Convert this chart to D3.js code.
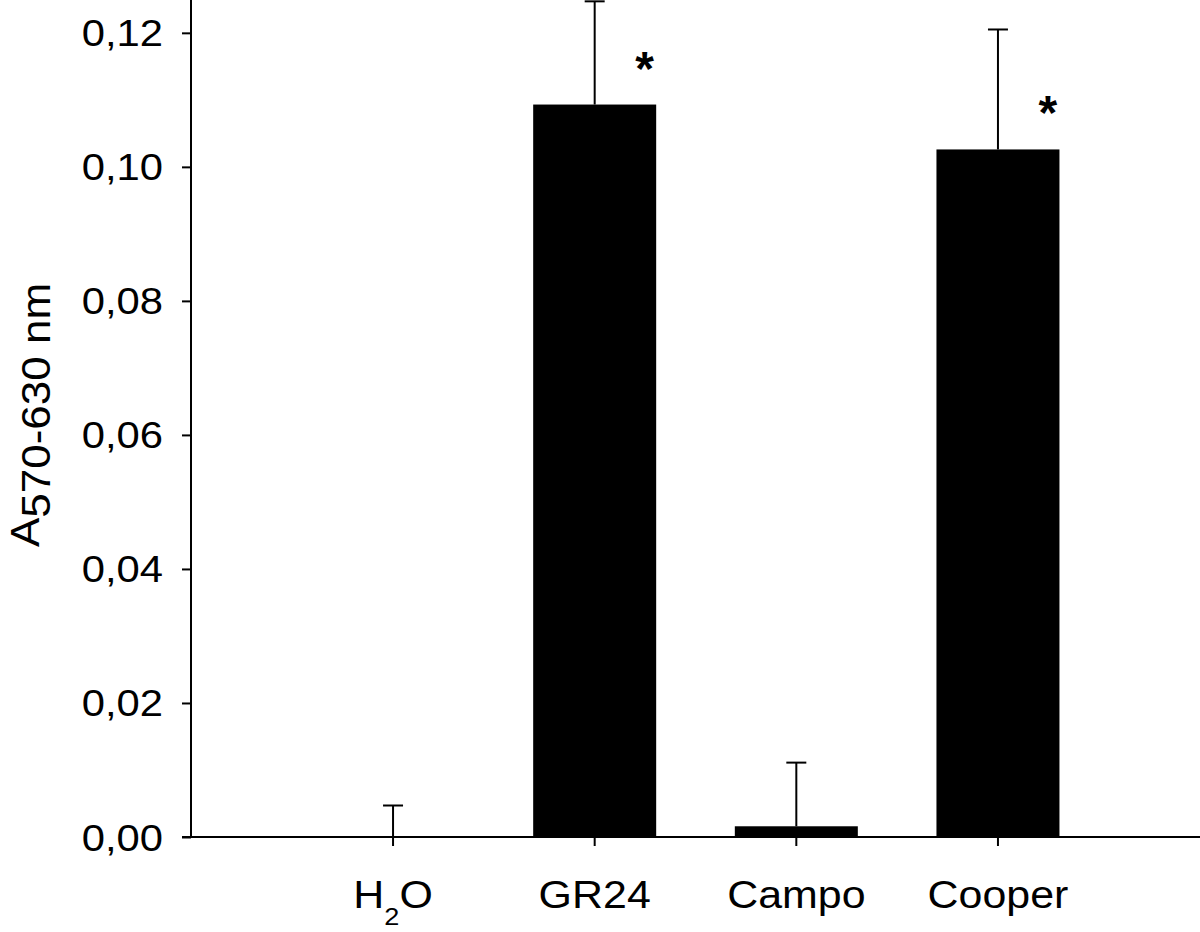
<!DOCTYPE html>
<html>
<head>
<meta charset="utf-8">
<script src="https://cdn.jsdelivr.net/npm/d3@7"></script>
<style>
  body { margin: 0; background: #fff; }
  text { font-family: "Liberation Sans", Arial, Helvetica, sans-serif; fill: #000; }
</style>
</head>
<body>
<div id="chart"></div>
<script>
// data
var categories = ["H2O", "GR24", "Campo", "Cooper"];
var means = [0, 0.1093, 0.0016, 0.1026];
var errors = [0.0047, 0.0154, 0.0095, 0.0179];
var significant = [false, true, false, true];
var yTicks = [0, 0.02, 0.04, 0.06, 0.08, 0.10, 0.12];

var data = categories.map(function(c, i) {
  return { name: c, mean: means[i], err: errors[i], sig: significant[i] };
});

// dimensions
var width = 1200, height = 932;
var margin = { left: 191, bottom: 95 };
var tick = 9;

var svg = d3.select("#chart")
  .append("svg")
    .attr("width", width)
    .attr("height", height);

var x = d3.scaleBand()
  .domain(categories)
  .range([margin.left, width])
  .paddingInner(0.39)
  .paddingOuter(0.697);

var y = d3.scaleLinear()
  .domain([0, 0.1249])
  .range([height - margin.bottom, 0]);

// bars
svg.append("g")
  .selectAll("rect")
  .data(data)
  .enter().append("rect")
    .attr("x", function(d) { return x(d.name); })
    .attr("y", function(d) { return y(d.mean); })
    .attr("width", x.bandwidth())
    .attr("height", function(d) { return y(0) - y(d.mean); })
    .attr("fill", "#000");

// error bars (upper only)
var eb = svg.append("g")
  .attr("stroke", "#000")
  .attr("stroke-width", 2);
eb.selectAll("line.v")
  .data(data)
  .enter().append("line")
    .attr("class", "v")
    .attr("x1", function(d) { return x(d.name) + x.bandwidth() / 2; })
    .attr("x2", function(d) { return x(d.name) + x.bandwidth() / 2; })
    .attr("y1", function(d) { return y(d.mean); })
    .attr("y2", function(d) { return y(d.mean + d.err); });
eb.selectAll("line.cap")
  .data(data)
  .enter().append("line")
    .attr("class", "cap")
    .attr("x1", function(d) { return x(d.name) + x.bandwidth() / 2 - 10; })
    .attr("x2", function(d) { return x(d.name) + x.bandwidth() / 2 + 10; })
    .attr("y1", function(d) { return y(d.mean + d.err); })
    .attr("y2", function(d) { return y(d.mean + d.err); });

// significance stars
svg.append("g")
  .selectAll("text")
  .data(data.filter(function(d) { return d.sig; }))
  .enter().append("text")
    .attr("x", function(d) { return x(d.name) + x.bandwidth() / 2 + 50; })
    .attr("y", function(d) { return y(d.mean) - 20; })
    .attr("text-anchor", "middle")
    .attr("font-weight", "bold")
    .attr("font-size", 48)
    .text("*");

// Y axis
var yAxis = svg.append("g")
  .attr("transform", "translate(" + margin.left + ",0)")
  .call(d3.axisLeft(y)
    .tickValues(yTicks)
    .tickSize(tick)
    .tickFormat(function(d) { return d3.format(".2f")(d).replace(".", ","); }));
yAxis.select(".domain").remove();
yAxis.selectAll(".tick line").attr("stroke-width", 2);
yAxis.selectAll(".tick text")
  .attr("x", null).attr("dy", null)
  .attr("transform", "translate(-28,13) scale(1.13,1)")
  .attr("font-size", 37)
  .attr("font-family", null)
  .attr("fill", "#000");

// X axis
var xAxis = svg.append("g")
  .attr("transform", "translate(0," + y(0) + ")")
  .call(d3.axisBottom(x).tickSize(tick).tickFormat(""));
xAxis.select(".domain").remove();
xAxis.selectAll(".tick line").attr("stroke-width", 2);

// axis lines
svg.append("line")
  .attr("x1", margin.left).attr("x2", margin.left)
  .attr("y1", y(0)).attr("y2", y(0.1249))
  .attr("stroke", "#000").attr("stroke-width", 2);
svg.append("line")
  .attr("x1", margin.left - tick).attr("x2", width)
  .attr("y1", y(0)).attr("y2", y(0))
  .attr("stroke", "#000").attr("stroke-width", 2);

// category labels
var labels = svg.append("g")
  .selectAll("text")
  .data(categories)
  .enter().append("text")
    .attr("transform", function(d) {
      return "translate(" + (x(d) + x.bandwidth() / 2) + "," + (y(0) + 71) + ") scale(1.13,1)";
    })
    .attr("text-anchor", "middle")
    .attr("font-size", 38);
labels.each(function(d) {
  var t = d3.select(this);
  if (d === "H2O") {
    t.append("tspan").text("H");
    t.append("tspan").attr("font-size", 24).attr("dy", 17).text("2");
    t.append("tspan").attr("dy", -17).text("O");
  } else {
    t.text(d);
  }
});

// Y title
var title = svg.append("text")
  .attr("transform", "translate(39,415) rotate(-90) scale(1.1,1)")
  .attr("text-anchor", "middle")
  .attr("font-size", 40);
title.append("tspan").text("A");
title.append("tspan").attr("dy", 11).text("570-630 nm");
</script>
</body>
</html>
